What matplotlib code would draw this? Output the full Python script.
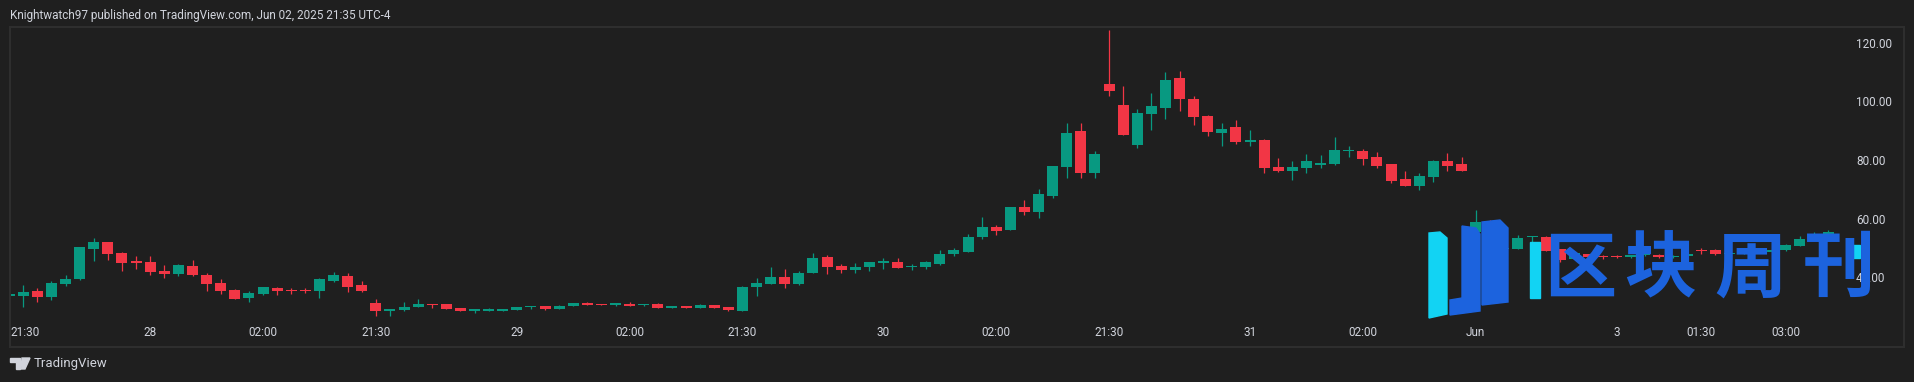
import matplotlib
matplotlib.use("Agg")
import matplotlib.pyplot as plt
from matplotlib.patches import Polygon, Rectangle

# 15 min candles, May 27 21:30 -> Jun 2 03:45 (UTC-4)
opens = [33.8, 33.8, 35.4, 33.4, 37.8, 39.5, 49.7, 52.1, 48.3, 45.6,
         45.3, 42.2, 41.2, 43.9, 40.9, 38.1, 35.7, 33.0, 34.4, 36.4,
         35.7, 35.7, 35.4, 38.8, 40.5, 37.4,
         31.3, 28.6, 28.9, 29.9, 31.0, 31.0, 29.6, 28.6, 28.6, 28.6,
         28.9, 29.9, 30.3, 29.3, 30.3, 31.3, 31.0, 30.6, 31.0, 30.6,
         31.0, 29.6, 30.3, 29.7, 30.6, 29.9,
         28.7, 36.8, 37.8, 40.2, 37.8, 41.5, 47.0, 43.9, 42.5, 43.6,
         44.9, 45.3, 43.6, 43.6, 44.6, 48.0, 48.7, 53.8, 57.2, 56.2,
         64.0, 62.3, 67.8, 77.6, 89.9, 75.6,
         105.9, 98.8, 85.1, 95.7, 97.8, 108.0, 100.8, 95.0, 89.2, 91.3,
         86.2, 86.8, 77.6, 76.3, 77.3, 78.3, 78.7, 83.1, 83.1, 81.1,
         78.7, 73.6, 71.2, 74.2, 79.7, 78.7,
         55.5, 59.2, 49.7, 49.7, 53.8, 53.8, 49.7, 46.2, 48.0, 47.3,
         47.3, 47.0, 47.5, 47.7, 47.0, 47.4, 49.4, 49.4, 48.0, 48.3,
         49.4, 48.7, 49.4, 50.7, 52.8, 53.8]
highs = [34.5, 37.4, 36.4, 38.8, 40.8, 50.4, 53.5, 52.1, 48.7, 47.3,
         47.3, 44.3, 44.6, 46.0, 41.5, 39.5, 36.1, 35.4, 36.8, 36.8,
         36.4, 36.4, 39.8, 41.9, 41.5, 38.8,
         32.7, 29.3, 31.7, 32.7, 31.0, 31.0, 29.6, 29.3, 29.6, 29.3,
         29.9, 30.3, 30.3, 30.6, 31.3, 31.7, 31.0, 31.3, 31.7, 31.0,
         31.3, 30.3, 30.3, 31.0, 30.6, 29.9,
         37.1, 39.8, 43.6, 42.9, 42.2, 48.3, 47.7, 44.6, 44.9, 45.3,
         46.6, 46.6, 44.6, 45.6, 49.4, 50.0, 54.8, 60.6, 57.9, 64.0,
         66.4, 70.2, 78.0, 92.6, 92.6, 83.1,
         124.3, 105.2, 97.4, 102.9, 110.0, 110.4, 101.8, 95.4, 92.6, 93.7,
         90.3, 87.2, 80.7, 79.7, 82.1, 81.7, 87.9, 84.8, 83.8, 82.8,
         78.7, 76.3, 75.6, 80.0, 82.4, 81.1,
         63.0, 59.6, 51.4, 54.5, 54.1, 54.1, 49.7, 49.1, 48.0, 47.7,
         47.7, 47.7, 48.3, 48.0, 47.7, 48.3, 50.0, 49.7, 49.0, 49.0,
         49.7, 49.7, 51.4, 54.1, 55.5, 56.2]
lows = [33.7, 30.0, 31.8, 32.3, 37.1, 39.1, 45.6, 46.0, 42.3, 43.0,
        40.9, 39.8, 40.5, 40.5, 35.4, 34.4, 32.7, 31.7, 34.0, 34.0,
        34.4, 34.7, 33.0, 38.5, 35.1, 35.1,
        26.9, 26.9, 28.6, 29.9, 29.6, 29.3, 28.6, 27.9, 28.6, 28.6,
        28.9, 29.3, 28.9, 29.3, 30.3, 30.6, 30.6, 30.3, 30.3, 30.3,
        29.6, 29.6, 29.6, 29.7, 29.7, 28.6,
        28.7, 33.7, 37.8, 36.4, 37.4, 41.5, 41.2, 41.5, 41.5, 42.2,
        43.0, 43.2, 42.5, 42.9, 44.3, 47.3, 48.7, 53.1, 54.5, 56.2,
        61.3, 60.3, 67.1, 73.9, 73.9, 73.9,
        101.8, 88.6, 84.1, 90.3, 94.0, 96.7, 92.0, 88.2, 84.8, 85.5,
        84.8, 75.6, 75.9, 73.2, 75.6, 77.3, 78.3, 81.1, 78.3, 77.3,
        72.2, 71.2, 69.8, 72.5, 76.3, 76.3,
        55.5, 47.7, 47.7, 49.7, 52.1, 49.0, 45.3, 46.2, 47.1, 46.4,
        46.7, 46.7, 47.3, 46.7, 46.7, 47.0, 48.0, 47.7, 47.3, 48.0,
        48.7, 48.7, 49.0, 50.7, 52.8, 53.8]
closes = [34.3, 35.1, 33.4, 38.1, 39.5, 50.4, 52.1, 48.0, 44.9, 44.9,
          41.9, 41.2, 44.3, 40.9, 37.8, 35.4, 32.7, 34.7, 36.8, 35.4,
          35.4, 35.4, 39.5, 40.9, 36.8, 35.4,
          28.6, 29.3, 29.9, 31.0, 30.6, 29.3, 28.6, 29.3, 29.3, 29.3,
          29.9, 30.3, 29.3, 30.3, 31.3, 30.6, 30.6, 31.3, 30.3, 31.0,
          29.6, 30.3, 29.6, 30.6, 29.7, 28.9,
          36.8, 38.1, 40.2, 37.8, 41.5, 46.6, 43.6, 42.5, 43.6, 45.3,
          45.6, 43.2, 43.9, 45.3, 48.0, 49.4, 53.8, 57.2, 55.8, 64.0,
          62.3, 68.4, 78.0, 89.2, 75.6, 82.1,
          103.5, 88.6, 96.0, 98.4, 107.3, 100.8, 94.7, 89.6, 90.6, 86.2,
          86.8, 77.3, 76.3, 77.6, 79.7, 79.0, 83.4, 83.4, 80.4, 78.0,
          72.9, 71.2, 74.6, 79.7, 78.0, 76.3,
          58.9, 49.7, 50.0, 53.5, 54.1, 49.0, 46.0, 48.4, 47.1, 47.0,
          47.0, 47.5, 48.0, 47.0, 47.4, 48.0, 49.0, 48.0, 48.3, 49.0,
          49.0, 49.4, 51.1, 53.1, 54.1, 55.5]

tick_idx = [10, 18, 26, 36, 44, 52, 62, 70, 78, 88, 96, 104, 114, 120, 126]
tick_lbl = ["28", "02:00", "21:30", "29", "02:00", "21:30", "30", "02:00",
            "21:30", "31", "02:00", "Jun", "3", "01:30", "03:00"]
price_ticks = [40, 60, 80, 100, 120]

BG = "#1f1f1f"
UP = "#089981"
DOWN = "#f23645"
TXT = "#d1d4dc"
W, H = 1914, 382

fig = plt.figure(figsize=(W / 100, H / 100), dpi=100, facecolor=BG)
ax = fig.add_axes([10 / W, (H - 347) / H, 1894 / W, 320 / H])
ax.set_facecolor(BG)

n = len(opens)
xs = list(range(n))
cols = [UP if c >= o else DOWN for o, c in zip(opens, closes)]
bottoms = [min(o, c) for o, c in zip(opens, closes)]
heights = [max(abs(c - o), 0.35) for o, c in zip(opens, closes)]

ax.vlines(xs, lows, highs, colors=cols, linewidth=0.9)
ax.bar(xs, heights, bottom=bottoms, width=0.78, color=cols, linewidth=0)

ax.set_xlim(0.057, 134.38)
ax.set_ylim(16.32, 125.35)

ax.set_xticks(tick_idx)
ax.set_xticklabels(tick_lbl)
ax.yaxis.tick_right()
ax.set_yticks(price_ticks)
ax.set_yticklabels(["%.2f" % v for v in price_ticks])
ax.tick_params(axis="x", length=0, pad=-10.3, colors=TXT, labelsize=8.5)
ax.tick_params(axis="y", length=0, pad=-34.6, colors=TXT, labelsize=8.5)
for lab in ax.get_xticklabels():
    lab.set_va("center")
    lab.set_family("Roboto")
for lab in ax.get_yticklabels():
    lab.set_family("Roboto")
ax.text(0.0, 332.7, "21:30", transform=ax.get_yaxis_transform(), ha="left",
        va="center", color=TXT, fontsize=8.5, family="Roboto")
# first label sits at pixel level, convert with figure coords instead
ax.texts[-1].set_transform(fig.transFigure)
ax.texts[-1].set_position((10 / W, 1 - 332.7 / H))

for s in ax.spines.values():
    s.set_color("#2e2e2e")
    s.set_linewidth(1.5)

fig.text(10 / W, 1 - 15 / H,
         "Knightwatch97 published on TradingView.com, Jun 02, 2025 21:35 UTC-4",
         ha="left", va="center", color=TXT, fontsize=8.5, family="Roboto")

# TradingView footer logo
def px(x, y):
    return (x / W, 1 - y / H)

fig.patches.append(Polygon([px(10, 358), px(20, 358), px(20, 369), px(16, 369),
                            px(16, 362), px(10, 362)], closed=True,
                           transform=fig.transFigure, color=TXT))
fig.patches.append(Polygon([px(22, 358), px(30, 358), px(25, 369), px(21, 369)],
                           closed=True, transform=fig.transFigure, color=TXT))
fig.text(34 / W, 1 - 364 / H, "TradingView", ha="left", va="center",
         color=TXT, fontsize=9.5, family="Roboto")

# watermark
CYAN = "#12d3f3"
BLUE = "#1c63de"
fig.patches.append(Polygon([px(1429, 233), px(1440, 232), px(1447, 238), px(1447, 314),
                            px(1429, 318)], closed=True,
                           transform=fig.transFigure, color=CYAN))
fig.patches.append(Polygon([px(1462, 226), px(1476, 228), px(1480, 234), px(1480, 311),
                            px(1450, 315), px(1450, 300), px(1462, 298)], closed=True,
                           transform=fig.transFigure, color=BLUE))
fig.patches.append(Polygon([px(1482, 222), px(1500, 220), px(1508, 228), px(1508, 302),
                            px(1482, 305)], closed=True,
                           transform=fig.transFigure, color=BLUE))
wm_chars = ["区", "块", "周", "刊"]
wm_x = [1580, 1660, 1750, 1839]
for ch, x in zip(wm_chars, wm_x):
    fig.text(x / W, 1 - 270 / H, ch, ha="center", va="center", color=BLUE,
             fontsize=52, fontweight="bold", family=["Noto Sans CJK SC", "DejaVu Sans"])
fig.patches.append(Rectangle(px(1530, 298), 10 / W, 56 / H,
                             transform=fig.transFigure, color=CYAN))
fig.patches.append(Rectangle(px(1852, 258), 8 / W, 13 / H,
                             transform=fig.transFigure, color=CYAN))

fig.savefig("out.png", dpi=100, facecolor=BG)
